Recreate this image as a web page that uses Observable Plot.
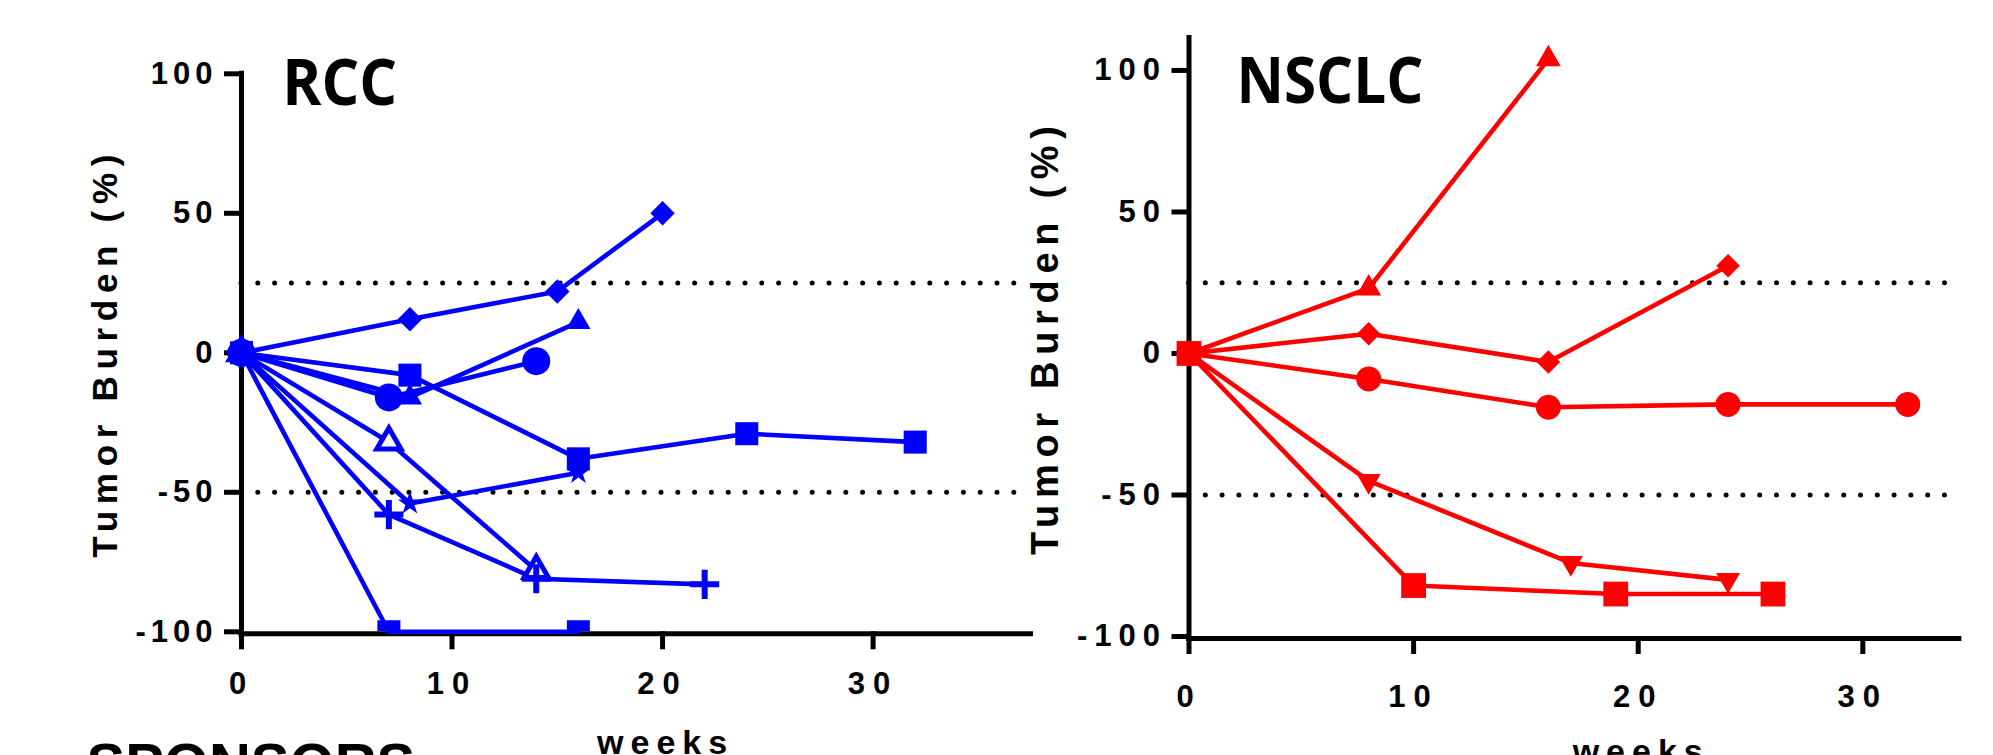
<!DOCTYPE html>
<html>
<head>
<meta charset="utf-8">
<script src="https://cdn.jsdelivr.net/npm/d3@7"></script>
<script src="https://cdn.jsdelivr.net/npm/@observablehq/plot@0.6"></script>
<style>
  body { margin: 0; background: #fff; }
  #chart { position: relative; width: 1993px; height: 755px; overflow: hidden; background: #fff; }
  #chart svg { position: absolute; top: 0; }
  g[aria-label="x-axis tick label"] text { letter-spacing: 8px; }
</style>
</head>
<body>
<div id="chart"></div>
<script>
// ---------- data ----------
const panelTitles = ["RCC", "NSCLC"];
const yLabel = "Tumor Burden (%)";
const xLabel = "weeks";
const footerText = "SPONSORS";
const xTicks = [0, 10, 20, 30];
const yTicks = [-100, -50, 0, 50, 100];
const thresholds = [25, -50];

// RCC series: [week, tumor burden %]
const rccDiamond      = [[0, 0], [8, 12], [15, 22], [20, 50]];
const rccTriangle     = [[0, 0], [8, -16], [16, 11]];
const rccCircle       = [[0, 0], [7, -16], [14, -3]];
const rccOpenTriangle = [[0, 0], [7, -32], [14, -78]];
const rccStar         = [[0, 0], [8, -54], [16, -43]];
const rccPlus         = [[0, 0], [7, -58], [14, -81], [22, -83]];
const rccSquareA      = [[0, 0], [8, -8], [16, -38], [24, -29], [32, -32]];
const rccSquareB      = [[0, 0], [7, -100], [16, -100]];

// NSCLC series
const nscTriangle     = [[0, 0], [8, 23], [16, 104]];
const nscDiamond      = [[0, 0], [8, 7], [16, -3], [24, 31]];
const nscCircle       = [[0, 0], [8, -9], [16, -19], [24, -18], [32, -18]];
const nscTriangleDown = [[0, 0], [8, -45], [17, -74], [24, -80]];
const nscSquare       = [[0, 0], [10, -82], [19, -85], [26, -85]];

// ---------- styles ----------
const BLUE = "#0000ff", RED = "#ff0000";
const sqrt3 = Math.sqrt(3);
const triangleDown = {
  draw(context, size) {
    const y = Math.sqrt(size / (sqrt3 * 3));
    context.moveTo(0, y * 2);
    context.lineTo(-sqrt3 * y, -y);
    context.lineTo(sqrt3 * y, -y);
    context.closePath();
  }
};
const toRows = (pts) => pts.map(([w, v]) => ({w, v}));

const rccSeries = [
  {pts: rccDiamond, symbol: "diamond2", r: 11},
  {pts: rccTriangle, symbol: "triangle", r: 9},
  {pts: rccCircle, symbol: "circle", r: 14},
  {pts: rccOpenTriangle, symbol: "triangle", r: 9, open: true},
  {pts: rccStar, symbol: "star", r: 7.5},
  {pts: rccPlus, symbol: "plus", r: 9.4, strokeOnly: true},
  {pts: rccSquareA, symbol: "square", r: 13},
  {pts: rccSquareB, symbol: "square", r: 13, clip: true}
];
const nscSeries = [
  {pts: nscTriangle, symbol: "triangle", r: 9.2},
  {pts: nscDiamond, symbol: "diamond2", r: 10.6},
  {pts: nscCircle, symbol: "circle", r: 12.5},
  {pts: nscTriangleDown, symbol: triangleDown, r: 8.9},
  {pts: nscSquare, symbol: "square", r: 14}
];

function panel({series, color, title, titleLength, width, marginLeft, marginRight, marginTop, marginBottom,
                xDomain, yDomain, titleDx, titleDy, ylabDx, ylabSize, yTickSpacing, weeksDy, xTickPad, footer}) {
  const marks = [];
  marks.push(Plot.ruleY(thresholds, {stroke: "black", strokeWidth: 5, strokeDasharray: "0 16.8", strokeLinecap: "round"}));
  marks.push(Plot.ruleX([0], {stroke: "black", strokeWidth: 5, strokeLinecap: "square"}));
  marks.push(Plot.ruleY([yDomain[0]], {stroke: "black", strokeWidth: 5, dy: 2, strokeLinecap: "square"}));
  marks.push(Plot.axisY(yTicks, {tickSize: 17, tickPadding: 12 - yTickSpacing, strokeWidth: 5, fontSize: 31, fontWeight: "bold",
    tickFormat: d => String(d), label: null, fill: "black", stroke: "black"}));
  marks.push(Plot.axisX(xTicks, {tickSize: 18, tickPadding: xTickPad, strokeWidth: 5, fontSize: 31, fontWeight: "bold",
    tickFormat: d => String(d), label: null, fill: "black", stroke: "black"}));
  for (const s of series) {
    marks.push(Plot.line(toRows(s.pts), {x: "w", y: "v", stroke: color, strokeWidth: 4.6, strokeLinejoin: "round"}));
  }
  for (const s of series) {
    const o = {x: "w", y: "v", symbol: s.symbol, r: s.r};
    if (s.open) Object.assign(o, {fill: "white", stroke: color, strokeWidth: 5});
    else if (s.strokeOnly) Object.assign(o, {fill: "none", stroke: color, strokeWidth: 6});
    else Object.assign(o, {fill: color, stroke: "none"});
    if (s.clip) o.clip = "frame";
    marks.push(Plot.dot(toRows(s.pts), o));
  }
  marks.push(Plot.text([title], {text: d => d, frameAnchor: "top-left", dx: titleDx, dy: titleDy, lineAnchor: "top",
    textAnchor: "start", fontSize: 65, fontWeight: "bold", fontFamily: "'Open Sans', sans-serif", fill: "black"}));
  marks.push(Plot.text([yLabel], {text: d => d, frameAnchor: "left", rotate: -90, dx: ylabDx, lineAnchor: "bottom",
    textAnchor: "middle", fontSize: ylabSize, fontWeight: "bold", fill: "black"}));
  marks.push(Plot.text([{w: 20, t: xLabel}], {x: "w", text: "t", frameAnchor: "bottom", dy: weeksDy, dx: 3, lineAnchor: "bottom",
    textAnchor: "middle", fontSize: 34, fontWeight: "bold", fill: "black"}));
  if (footer) {
    marks.push(Plot.text([footer], {text: d => d, frameAnchor: "bottom-left", dx: -155, dy: 152, lineAnchor: "bottom",
      textAnchor: "start", fontSize: 58, fontWeight: "bold", fill: "black"}));
  }
  const svg = Plot.plot({
    width, height: 755, marginLeft, marginRight, marginTop, marginBottom,
    x: {domain: xDomain},
    y: {domain: yDomain},
    style: {background: "transparent", overflow: "visible", fontFamily: "'Liberation Sans', Arial, sans-serif", color: "black"},
    marks
  });
  const root = d3.select(svg);
  root.selectAll('g[aria-label="y-axis tick label"] text').style("letter-spacing", yTickSpacing + "px");
  const texts = root.selectAll("text");
  texts.filter(function () { return this.textContent === title; })
    .attr("textLength", titleLength).attr("lengthAdjust", "spacingAndGlyphs");
  texts.filter(function () { return this.textContent === yLabel; })
    .style("letter-spacing", "6.7px");
  texts.filter(function () { return this.textContent === xLabel; })
    .style("letter-spacing", "7px");
  return svg;
}

const chart = document.getElementById("chart");
const left = panel({
  series: rccSeries, color: BLUE, title: panelTitles[0], titleLength: 115,
  width: 1050, marginLeft: 241, marginRight: 19.5, marginTop: 73.3, marginBottom: 123.7,
  xDomain: [0, 37.5], yDomain: [-100, 100],
  titleDx: 40.7, titleDy: -15, ylabDx: -125, ylabSize: 35, yTickSpacing: 5,
  weeksDy: 121.7, xTickPad: 22, footer: footerText
});
left.style.left = "0px";
const right = panel({
  series: nscSeries, color: RED, title: panelTitles[1], titleLength: 187,
  width: 993, marginLeft: 188.5, marginRight: 34.1, marginTop: 37.4, marginBottom: 119,
  xDomain: [0, 34.3], yDomain: [-100, 111.5],
  titleDx: 47.5, titleDy: 19.3, ylabDx: -131.5, ylabSize: 38, yTickSpacing: 7,
  weeksDy: 126, xTickPad: 30
});
right.style.left = "1000px";
chart.appendChild(left);
chart.appendChild(right);
</script>
</body>
</html>
